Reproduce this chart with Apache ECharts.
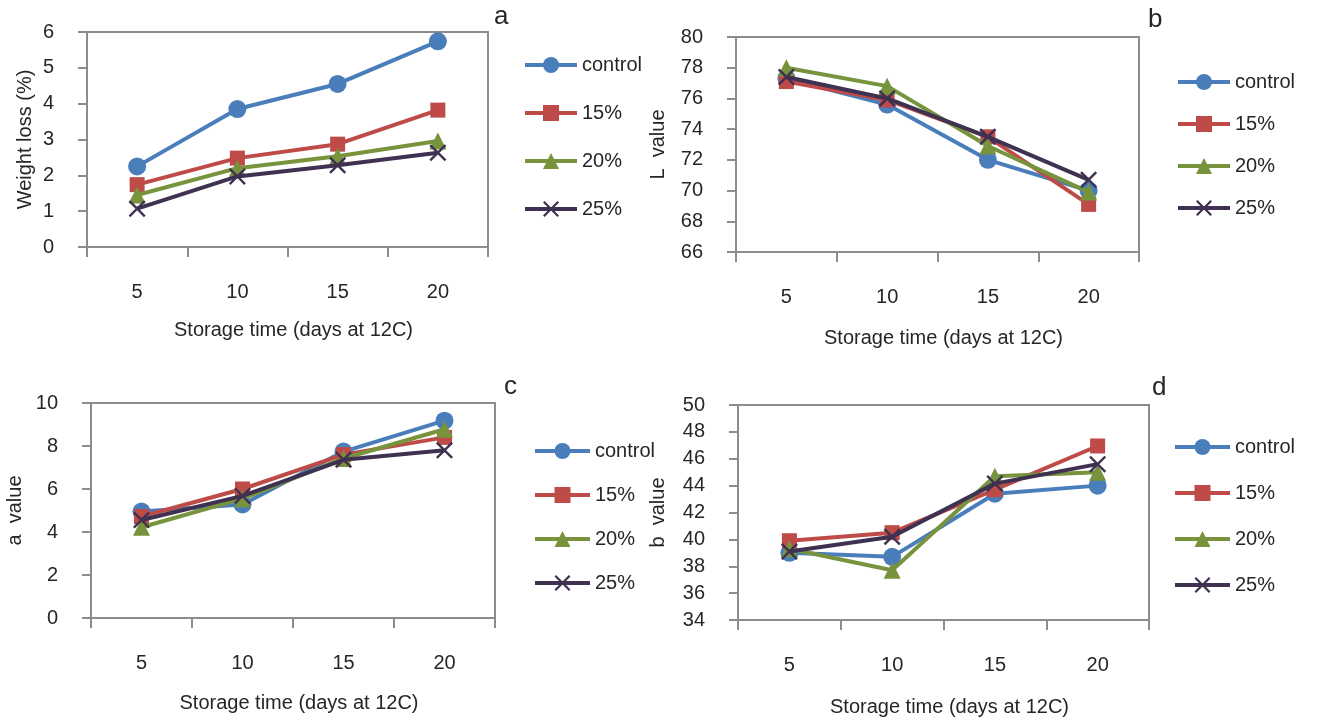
<!DOCTYPE html>
<html>
<head>
<meta charset="utf-8">
<script src="https://cdn.jsdelivr.net/npm/echarts@6/dist/echarts.min.js"></script>
<style>
html,body{margin:0;padding:0;background:#fff;}
#chart{width:1319px;height:720px;}
</style>
</head>
<body>
<div id="chart"></div>
<script>
// ---- data ----
const days = ['5', '10', '15', '20'];
const seriesNames = ['control', '15%', '20%', '25%'];

// a: Weight loss (%)
const weightControl = [2.25, 3.85, 4.55, 5.74];
const weight15 = [1.74, 2.48, 2.87, 3.82];
const weight20 = [1.45, 2.2, 2.53, 2.96];
const weight25 = [1.07, 1.97, 2.28, 2.63];

// b: L value
const lControl = [77.3, 75.6, 72.0, 70.0];
const l15 = [77.1, 75.9, 73.5, 69.1];
const l20 = [78.0, 76.8, 72.9, 69.9];
const l25 = [77.4, 76.0, 73.5, 70.7];

// c: a value
const aControl = [4.95, 5.28, 7.74, 9.18];
const a15 = [4.72, 6.0, 7.6, 8.4];
const a20 = [4.22, 5.55, 7.42, 8.78];
const a25 = [4.56, 5.68, 7.36, 7.8];

// d: b value
const bControl = [39.0, 38.7, 43.4, 44.0];
const b15 = [39.9, 40.5, 43.7, 46.95];
const b20 = [39.3, 37.7, 44.7, 45.0];
const b25 = [39.1, 40.2, 44.15, 45.6];

// y-axis ranges
const yRanges = [
  {min: 0, max: 6, interval: 1},
  {min: 66, max: 80, interval: 2},
  {min: 0, max: 10, interval: 2},
  {min: 34, max: 50, interval: 2}
];
const yNames = ['Weight loss (%)', 'L  value', 'a  value', 'b  value'];
const xName = 'Storage time (days at 12C)';
const panelLetters = ['a', 'b', 'c', 'd'];

// ---- styling ----
const colors = ['#4a7ebb', '#be4b48', '#77933c', '#3f3151'];
const xPath = 'path://M0,1L1,0L5,4L9,0L10,1L6,5L10,9L9,10L5,6L1,10L0,9L4,5Z';
const symbols = ['circle', 'rect', 'triangle', xPath];
const symbolSizes = [18, 15, 17, 17];
const font = "'Liberation Sans', Arial, sans-serif";
const textColor = '#262626';
const axisColor = '#8c8c8c';

const panelData = [
  [weightControl, weight15, weight20, weight25],
  [lControl, l15, l20, l25],
  [aControl, a15, a20, a25],
  [bControl, b15, b20, b25]
];

const grids = [
  {left: 87, top: 32, width: 401, height: 215},
  {left: 736, top: 37, width: 403, height: 215},
  {left: 91, top: 403, width: 404, height: 215},
  {left: 738, top: 405, width: 411, height: 215}
];
const yNameGaps = [52, 68, 66, 70];
const xNameGaps = [73, 76, 75, 77];
const legendPos = [
  {left: 523, top: 55, itemWidth: 52, itemGap: 28},
  {left: 1176, top: 72, itemWidth: 52, itemGap: 22},
  {left: 533, top: 441, itemWidth: 55, itemGap: 24},
  {left: 1173, top: 437, itemWidth: 55, itemGap: 26}
];
const letterPos = [[494, 18], [1148, 21], [504, 388], [1152, 389]];

const option = {
  animation: false,
  backgroundColor: '#fff',
  textStyle: {fontFamily: font, color: textColor},
  grid: grids.map(g => Object.assign({show: true, borderColor: axisColor, borderWidth: 2, containLabel: false}, g)),
  xAxis: grids.map((g, i) => ({
    type: 'category',
    gridIndex: i,
    data: days,
    boundaryGap: true,
    name: xName,
    nameLocation: 'middle',
    nameGap: xNameGaps[i],
    nameTextStyle: {fontSize: 20, color: textColor, fontFamily: font, padding: [0, 0, 0, 12]},
    axisLine: {lineStyle: {color: axisColor, width: 2}},
    axisTick: {show: true, length: 10, lineStyle: {color: axisColor, width: 2}},
    axisLabel: {fontSize: 20, color: textColor, fontFamily: font, margin: 35},
    splitLine: {show: false}
  })),
  yAxis: grids.map((g, i) => ({
    type: 'value',
    gridIndex: i,
    min: yRanges[i].min,
    max: yRanges[i].max,
    interval: yRanges[i].interval,
    name: yNames[i],
    nameLocation: 'middle',
    nameGap: yNameGaps[i],
    nameTextStyle: {fontSize: 20, color: textColor, fontFamily: font},
    axisLine: {show: true, lineStyle: {color: axisColor, width: 2}},
    axisTick: {show: true, length: 9, lineStyle: {color: axisColor, width: 2}},
    axisLabel: {fontSize: 20, color: textColor, fontFamily: font, margin: 33},
    splitLine: {show: false}
  })),
  legend: legendPos.map(p => ({
    orient: 'vertical',
    left: p.left,
    top: p.top,
    padding: 0,
    itemWidth: p.itemWidth,
    itemHeight: 20,
    itemGap: p.itemGap,
    data: seriesNames,
    lineStyle: {width: 4},
    textStyle: {fontSize: 20, lineHeight: 20, color: textColor, fontFamily: font}
  })),
  graphic: panelLetters.map((t, i) => ({
    type: 'text',
    left: letterPos[i][0],
    top: letterPos[i][1] - 14,
    style: {text: t, font: '26px ' + font, fill: textColor}
  })),
  series: []
};

panelData.forEach((sets, p) => {
  sets.forEach((vals, s) => {
    option.series.push({
      type: 'line',
      name: seriesNames[s],
      xAxisIndex: p,
      yAxisIndex: p,
      data: vals,
      symbol: symbols[s],
      symbolSize: symbolSizes[s],
      showAllSymbol: true,
      lineStyle: {color: colors[s], width: 4},
      itemStyle: {color: colors[s], borderColor: colors[s], borderWidth: 0},
      z: 2 + s
    });
  });
});

const chart = echarts.init(document.getElementById('chart'), null, {renderer: 'canvas'});
chart.setOption(option);
</script>
</body>
</html>
